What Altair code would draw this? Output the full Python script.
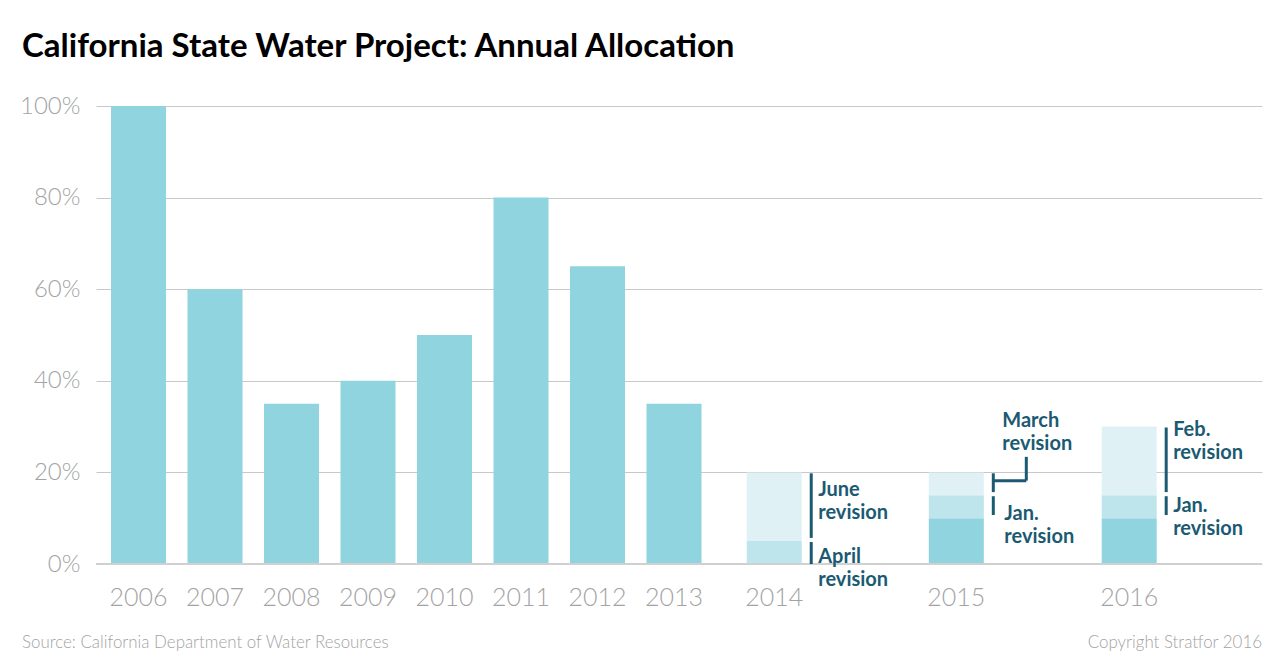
import altair as alt
import pandas as pd

# Final allocation, percent of contracted amounts
years = [2006, 2007, 2008, 2009, 2010, 2011, 2012, 2013]
allocation = [100, 60, 35, 40, 50, 80, 65, 35]

# Years shown with their revisions stacked
rev_years = [2014, 2015, 2016]
initial = [0, 10, 10]
first_rev = [5, 15, 15]
second_rev = [20, 20, 30]

# Revision notes: the span each one covers
ann_year = [2014, 2014, 2015, 2015, 2016, 2016]
ann_text = ["June\nrevision", "April\nrevision", "March\nrevision",
            "Jan.\nrevision", "Feb.\nrevision", "Jan.\nrevision"]
ann_lo = [5, 0, 15, 10, 15, 10]
ann_hi = [20, 5, 20, 15, 30, 15]

TITLE = "California State Water Project: Annual Allocation"
SOURCE = "Source: California Department of Water Resources"
COPYRIGHT = "Copyright Stratfor 2016"

# Horizontal layout: one slot per year, wider gaps before the revised years
slot = {y: i for i, y in enumerate(years)}
slot.update({2014: 8.31, 2015: 10.69, 2016: 12.95})
# label offsets (px) of each note relative to its bar / span top
note_dx = [44, 44, 46, 48, 44, 44]
note_dy = [23.6, 22, -45.7, 25, 9.5, 17]

W, H = 1166, 458
DARK, MID, LIGHT = "#8fd4de", "#bde5eb", "#e0f1f5"
INK = "#1b5a72"
GREY = "#a3a3a3"
FONT = "Lato"

main_df = pd.DataFrame({
    "year": years,
    "slot": [slot[y] for y in years],
    "alloc": allocation,
})

seg_rows = []
for y, a, b, c in zip(rev_years, initial, first_rev, second_rev):
    for stage, lo, hi in (("Initial", 0, a), ("First revision", a, b), ("Second revision", b, c)):
        if hi > lo:
            seg_rows.append({"year": y, "slot": slot[y], "stage": stage, "lo": lo, "hi": hi})
seg_df = pd.DataFrame(seg_rows)

label_years = years + rev_years
label_df = pd.DataFrame({
    "label": [str(y) for y in label_years],
    "slot": [slot[y] for y in label_years],
})

note_df = pd.DataFrame({
    "year": ann_year,
    "slot": [slot[y] for y in ann_year],
    "text": ann_text,
    "lo": ann_lo,
    "hi": ann_hi,
})
# small gaps so neighbouring spans read as separate strokes
note_df["top"] = note_df["hi"] - 0.2
note_df["bottom"] = note_df["lo"].where(note_df["lo"] == 0, note_df["lo"] + 0.7)

x_scale = alt.Scale(domain=[-0.5556, 14.686], nice=False, zero=False, padding=0)
y_scale = alt.Scale(domain=[0, 100], nice=False)
x_enc = alt.X("slot:Q", scale=x_scale, axis=None)

bars = alt.Chart(main_df).mark_bar(size=55, color=DARK).encode(
    x=x_enc,
    y=alt.Y("alloc:Q", scale=y_scale, axis=alt.Axis(
        values=[0, 20, 40, 60, 80, 100], labelExpr="datum.value + '%'",
        title=None, domain=False, ticks=False, grid=True,
        gridColor="#c8c8c8", gridWidth=1.2, labelPadding=16,
        labelFont=FONT, labelFontWeight=300, labelFontSize=24, labelColor=GREY,
    )),
)

stacks = alt.Chart(seg_df).mark_bar(size=55).encode(
    x=x_enc,
    y=alt.Y("lo:Q", scale=y_scale),
    y2="hi:Q",
    color=alt.Color("stage:N", legend=None, scale=alt.Scale(
        domain=["Initial", "First revision", "Second revision"],
        range=[DARK, MID, LIGHT])),
)

baseline = alt.Chart(pd.DataFrame({"v": [0]})).mark_rule(color="#d0d0d0", strokeWidth=2).encode(
    y=alt.Y("v:Q", scale=y_scale), x=alt.value(0), x2=alt.value(W)
)

year_labels = alt.Chart(label_df).mark_text(
    font=FONT, fontWeight=300, fontSize=25, color=GREY, baseline="alphabetic", align="center"
).encode(x=x_enc, y=alt.value(H + 42), text="label:N")

spans = alt.Chart(note_df).mark_rule(color=INK, strokeWidth=3, xOffset=37).encode(
    x=x_enc, y=alt.Y("top:Q", scale=y_scale), y2="bottom:Q"
)

# bracket tying the March span to its label above
march = note_df[note_df["text"].str.startswith("March")].copy()
march["elbow"] = 18.2
march["up"] = 23.4
bracket_h = alt.Chart(march).mark_rule(color=INK, strokeWidth=3, xOffset=37, x2Offset=70).encode(
    x=x_enc, x2="slot:Q", y=alt.Y("elbow:Q", scale=y_scale)
)
bracket_v = alt.Chart(march).mark_rule(color=INK, strokeWidth=3, xOffset=70).encode(
    x=x_enc, y=alt.Y("elbow:Q", scale=y_scale), y2="up:Q"
)

note_layers = []
for i in range(len(note_df)):
    row = note_df.iloc[[i]]
    note_layers.append(
        alt.Chart(row).mark_text(
            font=FONT, fontWeight="bold", fontSize=20, color=INK, align="left",
            baseline="alphabetic", lineBreak="\n", lineHeight=23,
            dx=note_dx[i], dy=note_dy[i],
        ).encode(x=x_enc, y=alt.Y("hi:Q", scale=y_scale), text="text:N")
    )

title = alt.Chart(pd.DataFrame({"t": [TITLE]})).mark_text(
    font=FONT, fontWeight="bold", fontSize=33, color="#000000",
    align="left", baseline="alphabetic",
).encode(x=alt.value(-74), y=alt.value(-49), text="t:N")

source = alt.Chart(pd.DataFrame({"t": [SOURCE]})).mark_text(
    font=FONT, fontWeight=300, fontSize=16.9, color=GREY, align="left", baseline="alphabetic",
).encode(x=alt.value(-74), y=alt.value(H + 84), text="t:N")

copyright_ = alt.Chart(pd.DataFrame({"t": [COPYRIGHT]})).mark_text(
    font=FONT, fontWeight=300, fontSize=16.9, color=GREY, align="right", baseline="alphabetic",
).encode(x=alt.value(W), y=alt.value(H + 84), text="t:N")

chart = alt.layer(
    bars, stacks, baseline, year_labels, spans, bracket_h, bracket_v,
    *note_layers, title, source, copyright_,
).properties(
    width=W, height=H,
    autosize=alt.AutoSizeParams(type="none"),
    padding={"left": 96, "top": 106, "right": 18, "bottom": 106},
    background="white",
).configure_view(stroke=None)

chart.save("out.html", embed_options={"renderer": "svg", "actions": False})
